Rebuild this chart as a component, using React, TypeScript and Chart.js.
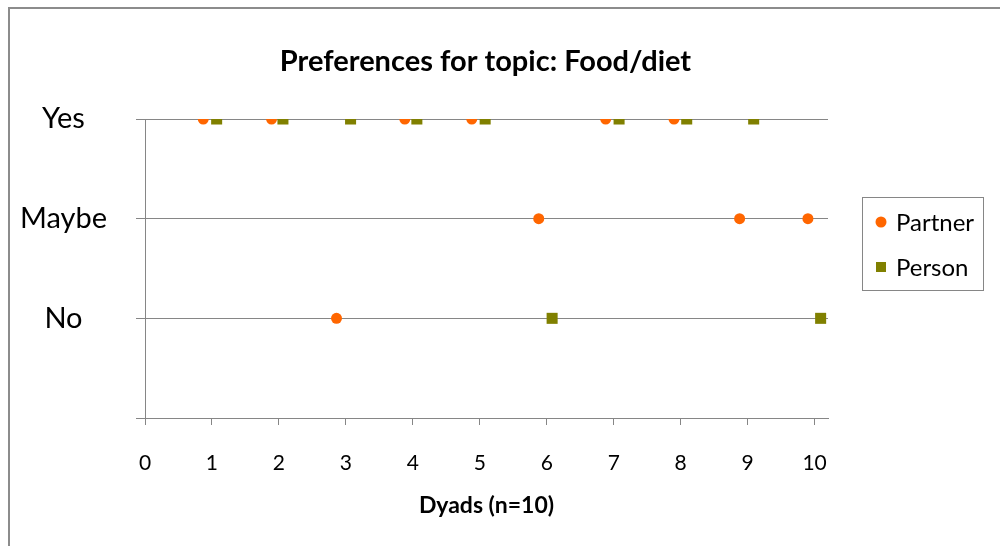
import React, { useEffect, useRef } from 'react';
import { Chart, registerables } from 'chart.js';

Chart.register(...registerables);

const FONT = 'Lato, "Open Sans", sans-serif';

// Data
const titleText = 'Preferences for topic: Food/diet';
const xTitle = 'Dyads (n=10)';
const yCategoryLabels = ['', 'No', 'Maybe', 'Yes']; // y = 0,1,2,3
const xTickValues = [0, 1, 2, 3, 4, 5, 6, 7, 8, 9, 10];

const partnerLabel = 'Partner';
const partnerX = [0.87, 1.89, 2.86, 3.88, 4.88, 5.88, 6.88, 7.9, 8.88, 9.9];
const partnerY = [3, 3, 1, 3, 3, 2, 3, 3, 2, 2];

const personLabel = 'Person';
const personX = [1.07, 2.06, 3.07, 4.06, 5.08, 6.08, 7.08, 8.09, 9.09, 10.09];
const personY = [3, 3, 3, 3, 3, 1, 3, 3, 3, 1];

const PARTNER_COLOR = '#FF6600';
const PERSON_COLOR = '#808000';
const AXIS_COLOR = '#868686';

const framePlugin = {
  id: 'frame',
  beforeDraw(chart: any) {
    const { ctx, width, height } = chart;
    ctx.save();
    ctx.fillStyle = '#ffffff';
    ctx.fillRect(0, 0, width, height);
    ctx.strokeStyle = '#8c8c8c';
    ctx.lineWidth = 2;
    ctx.beginPath();
    ctx.moveTo(9, height);
    ctx.lineTo(9, 8);
    ctx.lineTo(width, 8);
    ctx.stroke();
    // Title, centred over the plot area
    const area = chart.chartArea;
    ctx.fillStyle = '#000';
    ctx.font = `bold 29px ${FONT}`;
    ctx.textAlign = 'center';
    ctx.textBaseline = 'middle';
    ctx.fillText(titleText, (area.left + area.right) / 2 - 1, 62);
    ctx.restore();
  },
};

const legendBoxPlugin = {
  id: 'legendBox',
  afterDraw(chart: any) {
    const { ctx } = chart;
    const ds = chart.data.datasets;
    ctx.save();
    ctx.strokeStyle = AXIS_COLOR;
    ctx.lineWidth = 1;
    ctx.strokeRect(862.5, 197.5, 121, 93);
    ctx.font = `24px ${FONT}`;
    ctx.textBaseline = 'middle';
    ctx.textAlign = 'left';
    // Partner
    ctx.fillStyle = ds[0].backgroundColor;
    ctx.beginPath();
    ctx.arc(881, 222, 5.5, 0, Math.PI * 2);
    ctx.fill();
    ctx.fillStyle = '#000';
    ctx.fillText(ds[0].label, 896, 223);
    // Person
    ctx.fillStyle = ds[1].backgroundColor;
    ctx.fillRect(876, 262, 10, 10);
    ctx.fillStyle = '#000';
    ctx.fillText(ds[1].label, 896, 268);
    ctx.restore();
  },
};

export default function App() {
  const ref = useRef<HTMLCanvasElement>(null);

  useEffect(() => {
    const chart = new Chart(ref.current as HTMLCanvasElement, {
      type: 'scatter',
      data: {
        datasets: [
          {
            label: partnerLabel,
            data: partnerX.map((x, i) => ({ x, y: partnerY[i] })),
            pointStyle: 'circle',
            pointRadius: 5.5,
            backgroundColor: PARTNER_COLOR,
            borderColor: PARTNER_COLOR,
            borderWidth: 0,
          },
          {
            label: personLabel,
            data: personX.map((x, i) => ({ x, y: personY[i] })),
            pointStyle: 'rect',
            pointRadius: 7.8,
            backgroundColor: PERSON_COLOR,
            borderColor: PERSON_COLOR,
            borderWidth: 0,
          },
        ],
      },
      options: {
        responsive: false,
        animation: false,
        layout: { padding: { top: 119, left: 0, right: 172, bottom: 0 } },
        plugins: {
          legend: { display: false },
          tooltip: { enabled: false },
          title: { display: false },
        },
        scales: {
          x: {
            type: 'linear',
            min: 0,
            max: 10.2,
            afterBuildTicks: (scale: any) => {
              scale.ticks = xTickValues.map((v) => ({ value: v }));
            },
            afterFit: (scale: any) => {
              scale.height = 128;
            },
            grid: {
              drawOnChartArea: false,
              drawTicks: true,
              tickLength: 7,
              color: AXIS_COLOR,
            },
            border: { display: true, color: AXIS_COLOR },
            ticks: {
              color: '#000',
              font: { family: FONT, size: 21 },
              padding: 26,
              maxRotation: 0,
              autoSkip: false,
            },
            title: {
              display: true,
              text: xTitle,
              color: '#000',
              font: { family: FONT, size: 23, weight: 'bold' },
              padding: { top: 0, bottom: 27 },
            },
          },
          y: {
            type: 'linear',
            min: 0,
            max: 3,
            afterFit: (scale: any) => {
              scale.width = 145;
            },
            grid: {
              drawOnChartArea: true,
              drawTicks: true,
              tickLength: 9,
              color: AXIS_COLOR,
            },
            border: { display: true, color: AXIS_COLOR },
            ticks: {
              stepSize: 1,
              color: '#000',
              font: { family: FONT, size: 29 },
              padding: 29,
              crossAlign: 'center',
              callback: (v: any) => yCategoryLabels[Math.round(Number(v))] ?? '',
            },
          },
        },
      },
      plugins: [framePlugin, legendBoxPlugin],
    });
    return () => chart.destroy();
  }, []);

  return (
    <div style={{ position: 'absolute', left: 0, top: 0, width: 1000, height: 546, background: '#fff' }}>
      <canvas ref={ref} width={1000} height={546} style={{ display: 'block' }} />
    </div>
  );
}
